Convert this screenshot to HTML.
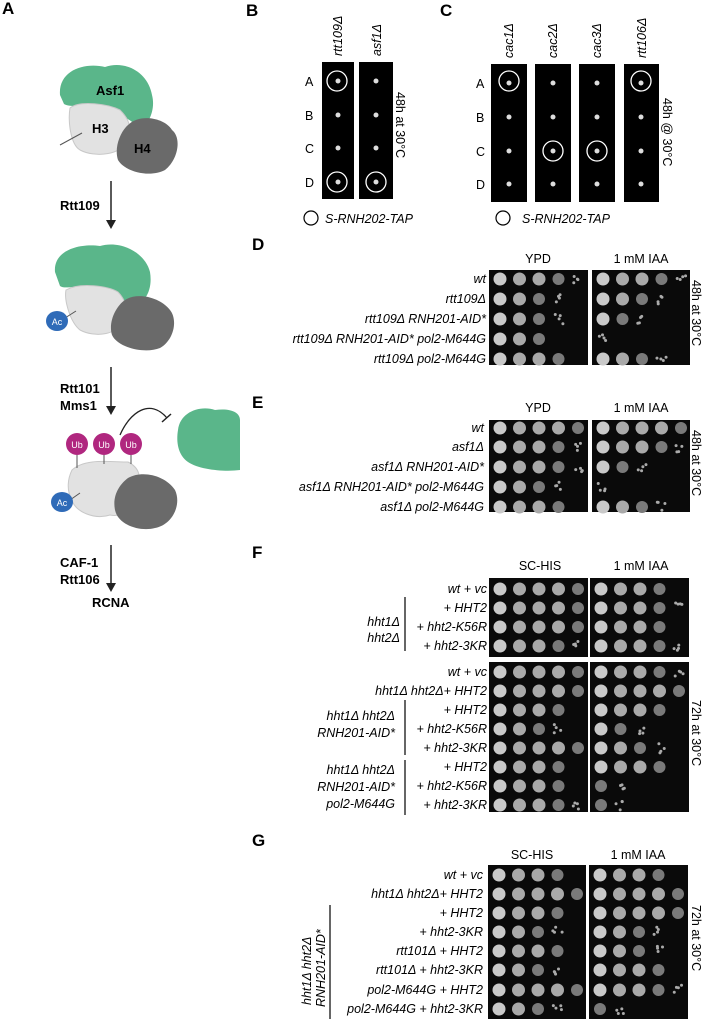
<!DOCTYPE html>
<html><head><meta charset="utf-8"><style>
html,body{margin:0;padding:0;background:#fff;width:704px;height:1019px;overflow:hidden}
svg{display:block}
text{font-family:"Liberation Sans",sans-serif}
.L{font-weight:bold;font-size:17px}
.i{font-style:italic;font-size:12.5px}
.n{font-size:12.5px}
.b{font-weight:bold;font-size:13px}
</style></head><body>
<svg id="s" width="704" height="1019" viewBox="0 0 704 1019" xmlns="http://www.w3.org/2000/svg">
<!-- Panel A -->
<text class="L" x="2" y="14">A</text>
<g id="cx1">
<path d="M60,95 C58,70 85,62 105,67 C125,60 148,72 152,95 C156,110 148,126 140,128 C128,118 118,112 100,108 C85,104 70,108 64,104 Z" fill="#5ab68a"/>
<path d="M70,108 C80,100 108,104 120,110 C128,118 132,125 128,140 C122,155 95,158 80,150 C70,144 68,120 70,108 Z" fill="#e2e2e2" stroke="#c8c8c8"/>
<path d="M128,125 C140,113 165,118 172,130 C182,138 178,160 165,170 C150,178 125,172 118,160 C114,148 120,132 128,125 Z" fill="#6a6a6a"/>
<line x1="60" y1="145" x2="82" y2="133" stroke="#555" stroke-width="1"/>
<text class="b" x="96" y="95">Asf1</text><text class="b" x="92" y="133">H3</text><text class="b" x="134" y="153">H4</text>
</g>
<line x1="111" y1="181" x2="111" y2="222" stroke="#222" stroke-width="1.5"/><path d="M106,220 L116,220 L111,229 Z" fill="#222"/>
<text class="b" x="60" y="210">Rtt109</text>
<g>
<path d="M55,272 C53,250 80,243 100,246 C120,240 145,252 150,272 C153,290 145,305 130,308 C120,298 110,290 95,287 C80,284 65,290 60,286 Z" fill="#5ab68a"/>
<path d="M66,290 C80,282 108,286 118,292 C126,300 128,310 124,320 C118,335 95,338 80,330 C70,322 64,300 66,290 Z" fill="#e2e2e2" stroke="#c8c8c8"/>
<path d="M125,300 C137,292 160,297 170,310 C178,320 174,340 160,348 C145,354 118,348 112,335 C108,322 116,306 125,300 Z" fill="#6a6a6a"/>
<line x1="65" y1="318" x2="76" y2="311" stroke="#555"/>
<ellipse cx="57" cy="321" rx="11" ry="10" fill="#2f6bb8"/><text x="57" y="325" text-anchor="middle" fill="#fff" font-size="9">Ac</text>
</g>
<line x1="111" y1="367" x2="111" y2="408" stroke="#222" stroke-width="1.5"/><path d="M106,406 L116,406 L111,415 Z" fill="#222"/>
<text class="b" x="60" y="393">Rtt101</text><text class="b" x="60" y="410">Mms1</text>
<g>
<path d="M72,470 C85,458 110,462 128,462 C140,468 142,478 136,490 C140,505 125,518 110,515 C95,520 75,512 72,500 C66,490 68,478 72,470 Z" fill="#e2e2e2" stroke="#c8c8c8"/>
<path d="M128,478 C142,470 165,475 175,490 C182,505 172,525 155,528 C140,532 118,525 115,510 C112,495 120,484 128,478 Z" fill="#6a6a6a"/>
<line x1="77" y1="455" x2="77" y2="468" stroke="#555"/><line x1="104" y1="455" x2="104" y2="464" stroke="#555"/><line x1="131" y1="455" x2="131" y2="464" stroke="#555"/>
<circle cx="77" cy="444" r="11" fill="#b0277f"/><circle cx="104" cy="444" r="11" fill="#b0277f"/><circle cx="131" cy="444" r="11" fill="#b0277f"/>
<text x="77" y="448" text-anchor="middle" fill="#fff" font-size="9">Ub</text><text x="104" y="448" text-anchor="middle" fill="#fff" font-size="9">Ub</text><text x="131" y="448" text-anchor="middle" fill="#fff" font-size="9">Ub</text>
<line x1="70" y1="500" x2="80" y2="493" stroke="#555"/>
<ellipse cx="62" cy="502" rx="11" ry="10" fill="#2f6bb8"/><text x="62" y="506" text-anchor="middle" fill="#fff" font-size="9">Ac</text>
<path d="M120,435 C130,412 150,398 167,418" fill="none" stroke="#222" stroke-width="1.3"/>
<line x1="162" y1="422" x2="171" y2="414" stroke="#222" stroke-width="1.5"/>
<path d="M178,430 C180,412 200,405 215,410 C230,408 240,412 240,420 L240,470 C225,472 200,470 188,462 C178,455 176,442 178,430 Z" fill="#5ab68a"/>
</g>
<line x1="111" y1="545" x2="111" y2="585" stroke="#222" stroke-width="1.5"/><path d="M106,583 L116,583 L111,592 Z" fill="#222"/>
<text class="b" x="60" y="567">CAF-1</text><text class="b" x="60" y="584">Rtt106</text>
<text class="b" x="92" y="607">RCNA</text>

<!-- Panel B -->
<text class="L" x="246" y="16">B</text>
<rect x="322" y="62" width="32" height="137" fill="#000"/><rect x="359" y="62" width="34" height="137" fill="#000"/>
<text class="i" transform="translate(342,56) rotate(-90)">rtt109Δ</text>
<text class="i" transform="translate(381,56) rotate(-90)">asf1Δ</text>
<g class="n"><text x="305" y="86">A</text><text x="305" y="120">B</text><text x="305" y="153">C</text><text x="305" y="187">D</text></g>
<text class="n" transform="translate(396,92) rotate(90)">48h at 30°C</text>
<circle cx="311" cy="218" r="7" fill="none" stroke="#000" stroke-width="1.2"/><text class="i" x="325" y="223">S-RNH202-TAP</text>
<!-- Panel C -->
<text class="L" x="440" y="16">C</text>
<rect x="491" y="64" width="36" height="138" fill="#000"/><rect x="535" y="64" width="36" height="138" fill="#000"/><rect x="579" y="64" width="36" height="138" fill="#000"/><rect x="624" y="64" width="35" height="138" fill="#000"/>
<text class="i" transform="translate(513,58) rotate(-90)">cac1Δ</text><text class="i" transform="translate(557,58) rotate(-90)">cac2Δ</text><text class="i" transform="translate(601,58) rotate(-90)">cac3Δ</text><text class="i" transform="translate(646,58) rotate(-90)">rtt106Δ</text>
<g class="n"><text x="476" y="88">A</text><text x="476" y="122">B</text><text x="476" y="156">C</text><text x="476" y="189">D</text></g>
<text class="n" transform="translate(663,98) rotate(90)">48h @ 30°C</text>
<circle cx="503" cy="218" r="7" fill="none" stroke="#000" stroke-width="1.2"/><text class="i" x="522" y="223">S-RNH202-TAP</text>
<g id="bc"></g>

<!-- D -->
<text class="L" x="252" y="250">D</text>
<text class="n" x="538" y="263" text-anchor="middle">YPD</text><text class="n" x="641" y="263" text-anchor="middle">1 mM IAA</text>
<text class="n" transform="translate(692,280) rotate(90)">48h at 30°C</text>
<!-- E -->
<text class="L" x="252" y="408">E</text>
<text class="n" x="538" y="412" text-anchor="middle">YPD</text><text class="n" x="641" y="412" text-anchor="middle">1 mM IAA</text>
<text class="n" transform="translate(692,430) rotate(90)">48h at 30°C</text>
<!-- F -->
<text class="L" x="252" y="558">F</text>
<text class="n" x="540" y="570" text-anchor="middle">SC-HIS</text><text class="n" x="641" y="570" text-anchor="middle">1 mM IAA</text>
<text class="n" transform="translate(692,700) rotate(90)">72h at 30°C</text>
<text class="i" x="400" y="626" text-anchor="end">hht1Δ</text><text class="i" x="400" y="642" text-anchor="end">hht2Δ</text>
<line x1="405" y1="597" x2="405" y2="651" stroke="#000" stroke-width="1.2"/>
<text class="i" x="395" y="720" text-anchor="end">hht1Δ hht2Δ</text><text class="i" x="395" y="737" text-anchor="end">RNH201-AID*</text>
<line x1="405" y1="700" x2="405" y2="755" stroke="#000" stroke-width="1.2"/>
<text class="i" x="395" y="774" text-anchor="end">hht1Δ hht2Δ</text><text class="i" x="395" y="791" text-anchor="end">RNH201-AID*</text><text class="i" x="395" y="808" text-anchor="end">pol2-M644G</text>
<line x1="405" y1="760" x2="405" y2="815" stroke="#000" stroke-width="1.2"/>
<!-- G -->
<text class="L" x="252" y="846">G</text>
<text class="n" x="532" y="859" text-anchor="middle">SC-HIS</text><text class="n" x="638" y="859" text-anchor="middle">1 mM IAA</text>
<text class="n" transform="translate(692,905) rotate(90)">72h at 30°C</text>
<text class="i" transform="translate(311,1005) rotate(-90)">hht1Δ hht2Δ</text>
<text class="i" transform="translate(325,1007) rotate(-90)">RNH201-AID*</text>
<line x1="330" y1="905" x2="330" y2="1019" stroke="#000" stroke-width="1.2"/>
<g id="plates"></g>
</svg>
<script>
var NS="http://www.w3.org/2000/svg",P=document.getElementById("plates");
function el(t,a,p){var e=document.createElementNS(NS,t);for(var k in a)e.setAttribute(k,a[k]);(p||P).appendChild(e);return e;}
// B/C spots
var bc=document.getElementById("bc");
var ys=[[81,115,148,182],[83,117,151,184]];
[[338,0],[376,0]].forEach(function(c){ys[0].forEach(function(y){el("circle",{cx:c[0],cy:y,r:2.5,fill:"#ddd"},bc)})});
[509,553,597,641].forEach(function(x){ys[1].forEach(function(y){el("circle",{cx:x,cy:y,r:2.5,fill:"#ddd"},bc)})});
[[337,81],[337,182],[376,182]].forEach(function(c){el("circle",{cx:c[0],cy:c[1],r:10,fill:"none",stroke:"#fff","stroke-width":1.3},bc)});
[[509,81],[553,151],[597,151],[641,81]].forEach(function(c){el("circle",{cx:c[0],cy:c[1],r:10,fill:"none",stroke:"#fff","stroke-width":1.3},bc)});
var seed=7;function rnd(){seed=(seed*9301+49297)%233280;return seed/233280;}
function plate(x,w,y0,y1,rows,lv){
 el("rect",{x:x,y:y0,width:w,height:y1-y0,fill:"#0a0a0a"});
 rows.forEach(function(y,i){var g=lv[i];
  for(var c=0;c<5;c++){var cx=x+11+c*19.5;var s=g-c;
   if(s>=2){el("circle",{cx:cx,cy:y,r:6.5,fill:c==0?"#c9c9c9":"#a9a9a9"});}
   else if(s>=1){el("circle",{cx:cx,cy:y,r:6,fill:"#7a7a7a"});}
   else if(s>0){for(var k=0;k<4;k++)el("circle",{cx:cx+(rnd()-0.5)*10,cy:y+(rnd()-0.5)*10,r:1.5,fill:"#aaa"});}
  }});
}
function labels(xr,rows,txt){rows.forEach(function(y,i){if(txt[i]){var t=el("text",{x:xr,y:y+4,"text-anchor":"end","class":"i"});t.textContent=txt[i];}});}
var Dr=[279,299,319,339,359];
plate(489,99,270,365,Dr,[4.6,3.4,3.5,3,4]);plate(592,98,270,365,Dr,[4.7,3.6,2.5,0.4,3.6]);
labels(486,Dr,["wt","rtt109Δ","rtt109Δ RNH201-AID*","rtt109Δ RNH201-AID* pol2-M644G","rtt109Δ pol2-M644G"]);
var Er=[428,447,467,487,507];
plate(489,99,420,512,Er,[5,4.5,4.3,3.5,4]);plate(592,98,420,512,Er,[5,4.6,2.5,0.5,3.5]);
labels(484,Er,["wt","asf1Δ","asf1Δ RNH201-AID*","asf1Δ RNH201-AID* pol2-M644G","asf1Δ pol2-M644G"]);
var F1=[589,608,627,646];
plate(489,99,578,657,F1,[5,5,5,4.6]);plate(590,99,578,657,F1,[4,4.5,4,4.2]);
labels(487,F1,["wt + vc","+ HHT2","+ hht2-K56R","+ hht2-3KR"]);
var F2=[672,691,710,729,748,767,786,805];
plate(489,99,662,812,F2,[5,5,4,3.5,5,4,4,4.5]);plate(590,99,662,812,F2,[4.7,5,4,2.3,3.5,4,1.5,1.2]);
labels(487,F2,["wt + vc","hht1Δ hht2Δ+ HHT2","+ HHT2","+ hht2-K56R","+ hht2-3KR","+ HHT2","+ hht2-K56R","+ hht2-3KR"]);
var G=[875,894,913,932,951,970,990,1009];
plate(488,98,865,1022,G,[4,5,4,3.5,4,3.5,5,3.5]);plate(589,99,865,1022,G,[4,5,5,3.5,3.5,4,4.5,1.6]);
labels(483,G,["wt + vc","hht1Δ hht2Δ+ HHT2","+ HHT2","+ hht2-3KR","rtt101Δ + HHT2","rtt101Δ + hht2-3KR","pol2-M644G + HHT2","pol2-M644G + hht2-3KR"]);
</script>
</body></html>
